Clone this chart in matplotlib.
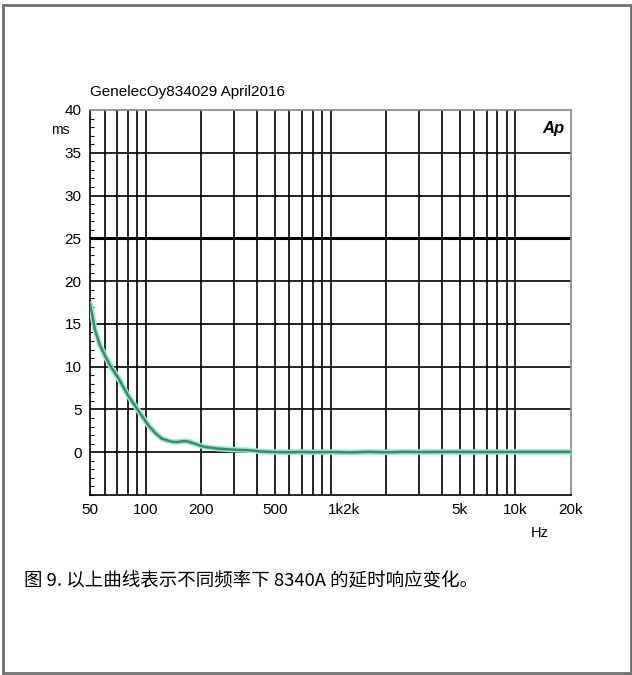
import matplotlib
matplotlib.use("Agg")
import matplotlib.pyplot as plt
from matplotlib.patches import Rectangle

plt.rcParams['font.family'] = ['Liberation Sans', 'Noto Sans CJK SC', 'DejaVu Sans']

# Data
freq_hz = [50, 51.5, 53.2, 56.6, 60.5, 65.7, 71, 80, 91, 103, 112, 122, 132, 141,
           150, 160, 170, 181, 193, 205, 242, 298, 365, 412, 450, 500, 600,
           700, 800, 1000, 1300, 1600, 2000, 2500, 3000, 4000, 5000, 7000, 10000, 15000, 20000]
delay_ms = [17.3, 16.0, 14.3, 12.5, 11.2, 9.8, 8.7, 6.7, 4.9, 3.2, 2.3, 1.6, 1.35, 1.2,
            1.2, 1.3, 1.25, 1.05, 0.85, 0.65, 0.43, 0.3, 0.23, 0.1, 0.05, 0.02, 0.0,
            0.03, 0.0, 0.02, -0.02, 0.04, 0.0, 0.04, 0.02, 0.04, 0.04, 0.02, 0.04, 0.04, 0.04]

xtick_pos = [50, 100, 200, 500, 1190, 5000, 10000, 20000]
xtick_labels = ['50', '100', '200', '500', '1k2k', '5k', '10k', '20k']
xgrid = [60, 70, 80, 90, 100, 200, 300, 400, 500, 600, 700, 800, 900,
         1000, 2000, 3000, 4000, 5000, 6000, 7000, 8000, 9000, 10000]
ytick_pos = [0, 5, 10, 15, 20, 25, 30, 35, 40]
ytick_labels = ['0', '5', '10', '15', '20', '25', '30', '35', '40']

title = 'GenelecOy834029 April2016'
caption = '图 9. 以上曲线表示不同频率下 8340A 的延时响应变化。'

fig = plt.figure(figsize=(6.32, 6.75), dpi=100)
W, H = 632, 675

ax = fig.add_axes([90 / W, 1 - 495 / H, 481 / W, 385 / H])
ax.set_xscale('log')
ax.set_xlim(50, 20000)
ax.set_ylim(-5, 40)

# grid
for g in xgrid:
    ax.axvline(g, color='black', lw=1.2, zorder=1)
for yv in range(0, 40, 5):
    ax.axhline(yv, color='black', lw=2.2 if yv == 25 else 1.2, zorder=1)

ax.set_xticks(xtick_pos, xtick_labels)
ax.xaxis.set_minor_locator(matplotlib.ticker.NullLocator())
ax.tick_params(axis='x', length=0, pad=6, labelsize=11)
ax.set_yticks(ytick_pos, ytick_labels)
ax.set_yticks(range(-5, 41), minor=True)
ax.tick_params(axis='y', which='major', length=0, pad=6, labelsize=11)
ax.tick_params(axis='y', which='minor', direction='in', length=3, width=0.8)
ax.tick_params(axis='x', which='minor', length=0)

for s in ax.spines.values():
    s.set_linewidth(1.2)
    s.set_color('black')
ax.spines['top'].set_color('#888888')
ax.spines['right'].set_color('#888888')

ax.plot(freq_hz, delay_ms, color='#a6e3d0', lw=4.0, zorder=3, solid_capstyle='round')
ax.plot(freq_hz, delay_ms, color='#2e8f72', lw=1.8, zorder=4)

# texts
fig.text(90 / W, 1 - 92 / H, title, fontsize=11, ha='left', va='center')
fig.text(60 / W, 1 - 130 / H, 'ms', fontsize=10, ha='center', va='center')
fig.text(553 / W, 1 - 128 / H, 'Ap', fontsize=12, fontweight='bold', fontstyle='italic',
         ha='center', va='center')
fig.text(540 / W, 1 - 533 / H, 'Hz', fontsize=10.5, ha='center', va='center')
fig.text(24 / W, 1 - 581 / H, caption, fontsize=13.3, ha='left', va='center',
         family=['Noto Sans CJK SC', 'DejaVu Sans'])

# outer frame
fig.patches.append(Rectangle((3 / W, 2 / H), 628 / W, 668 / H, transform=fig.transFigure,
                             fill=False, edgecolor='#707070', lw=2))

fig.savefig('out.png', dpi=100)
